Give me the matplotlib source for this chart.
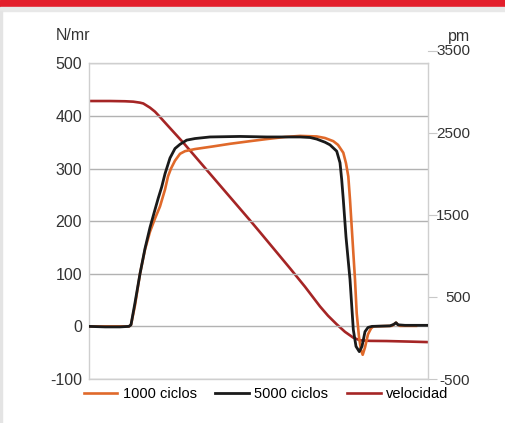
import matplotlib.pyplot as plt
from matplotlib.patches import Rectangle
from matplotlib.lines import Line2D

plt.rcParams['font.family'] = ['Liberation Sans', 'DejaVu Sans']
plt.rcParams['axes.unicode_minus'] = False

# time axis (arbitrary units), force in N/m, speed in rpm
t_5000 = [0, 16, 31, 40, 42, 46, 51, 56, 61, 66, 69.3, 72.7, 76, 81, 86, 91, 97.7, 106, 121,
          151, 177.7, 211, 221, 227.7, 236, 241, 247.7, 251, 252.7, 254.3, 257, 261, 264.3,
          267, 270.3, 273, 276, 279, 283, 301, 305, 307, 309, 316, 339]
f_5000 = [0, -1, -1, 0, 3, 45, 100, 148, 188, 222, 244, 265, 290, 320, 338, 346, 354, 357, 360,
          361, 360, 360, 359, 356, 350, 345, 333, 311, 279, 241, 170, 89, -6,
          -38, -48, -38, -10, -2, 0, 1, 4, 7, 3, 2, 2]

t_1000 = [0, 40, 42, 46, 51, 56, 61, 66, 71, 76, 79, 82, 86, 91, 96, 106, 124, 141, 161,
          177.7, 196, 211, 227.7, 236, 244.3, 249, 254.3, 257, 259.3, 261, 263, 266, 267.7,
          270, 272, 273.7, 276, 279, 282, 284.3, 303, 305, 307, 309, 311, 327]
f_1000 = [0, 0, 3, 40, 100, 146, 180, 205, 228, 260, 285, 300, 315, 328, 333, 337, 342, 347, 352,
          356, 360, 362, 361, 358, 352, 345, 330, 310, 285, 241, 180, 89, 25,
          -20, -45, -54, -40, -15, -4, 0, 1, 4, 7, 3, 1, 1]

t_vel = [0, 21, 36, 44.3, 51, 54.3, 61, 66, 71, 74.3, 81, 94.3, 111, 134.3, 144.3, 161, 171,
         186, 201, 216, 231, 239, 247.7, 256, 264.3, 271, 281, 297.7, 321, 339]
v_vel = [2890, 2890, 2887, 2882, 2870, 2860, 2809, 2760, 2695, 2650, 2560, 2382, 2145, 1814,
         1672, 1435, 1290, 1070, 850, 625, 385, 272, 167, 75, 4, -28, -35, -37, -44, -50]

labels = ['1000 ciclos', '5000 ciclos', 'velocidad']
colors = ['#E0692A', '#1A1A1A', '#A52525']

fig = plt.figure(figsize=(5.06, 4.23), dpi=100)
fig.patches.append(Rectangle((0, 1 - 7 / 423), 1, 7 / 423, transform=fig.transFigure,
                             color='#E31E2B', zorder=0))
fig.patches.append(Rectangle((0, 1 - 11 / 423), 1, 4 / 423, transform=fig.transFigure,
                             color='#e8e8e8', zorder=0))
fig.patches.append(Rectangle((0, 0), 2.5 / 506, 1 - 11 / 423, transform=fig.transFigure,
                             color='#e4e4e4', zorder=0))

ax = fig.add_axes([89 / 506, 44 / 423, 339 / 506, 315.7 / 423])
ax2 = ax.twinx()

ax.set_xlim(0, 339)
ax.set_ylim(-100, 500)
ax.set_yticks([-100, 0, 100, 200, 300, 400, 500])
ax.set_xticks([])
ax.tick_params(axis='y', length=0, pad=5, labelsize=11.5, labelcolor='#333333')
ax.grid(axis='y', color='#b2b2b2', linewidth=1)
ax.set_axisbelow(True)
for s in ax.spines.values():
    s.set_color('#cfcfcf')
    s.set_linewidth(1)
for s in ax2.spines.values():
    s.set_visible(False)

h1, = ax.plot(t_1000, f_1000, color=colors[0], lw=1.9, zorder=3, solid_joinstyle='round')
h2, = ax.plot(t_5000, f_5000, color=colors[1], lw=2.0, zorder=4, solid_joinstyle='round')
h3, = ax2.plot(t_vel, v_vel, color=colors[2], lw=1.9, solid_joinstyle='round')
ax.set_zorder(2)
ax.patch.set_visible(False)
ax2.set_zorder(1)

vel_top = -500 + (379 - 63.3) / 82 * 1000
ax2.set_ylim(-500, vel_top)
ax2.set_yticks([-500, 500, 1500, 2500])
ax2.tick_params(axis='y', length=6.5, color='#c8c8c8', pad=24, labelsize=11,
                labelcolor='#333333')
for lab in ax2.get_yticklabels():
    lab.set_horizontalalignment('right')
# 3500 tick sits above the plot area
ytr = ax2.get_yaxis_transform()
ax2.add_line(Line2D([1.0, 1.0 + 9 / 339], [3500, 3500], transform=ytr, color='#c8c8c8',
                    lw=0.8, clip_on=False))
ax2.text(1.0 + 42 / 339, 3500, '3500', transform=ytr, ha='right', va='center',
         fontsize=11, color='#333333', clip_on=False)

fig.text(56 / 506, 1 - 36 / 423, 'N/mr', fontsize=11.5, color='#333333', va='center')
fig.text(470 / 506, 1 - 36 / 423, 'pm', fontsize=11.5, color='#333333', va='center', ha='right')

fig.legend([h1, h2, h3], labels, ncol=3, loc='center', bbox_to_anchor=(266 / 506, 1 - 394 / 423),
           frameon=False, fontsize=10.5, handlelength=2.3, handletextpad=0.35,
           columnspacing=1.3, borderaxespad=0, borderpad=0)

fig.savefig('out.png', dpi=100)
